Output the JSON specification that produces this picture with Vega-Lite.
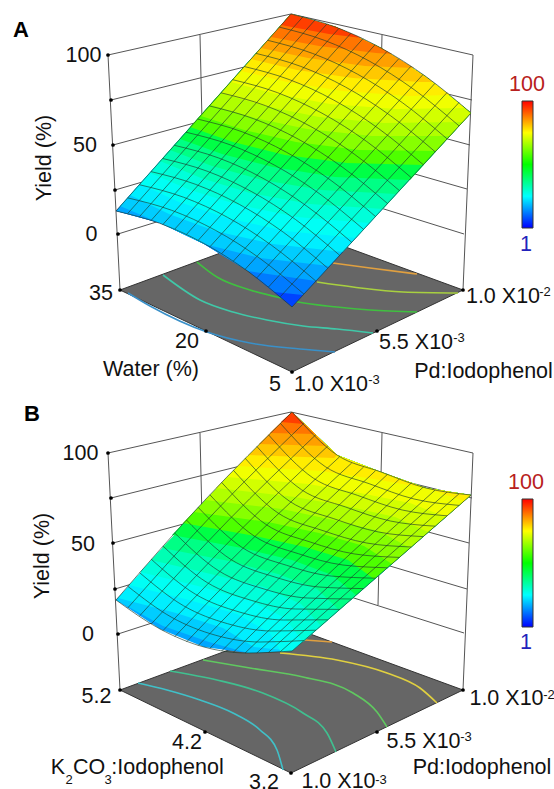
{"$schema":"https://vega.github.io/schema/vega-lite/v6.json","width":554,"height":789,"padding":0,"autosize":{"type":"none"},"background":"white","config":{"view":{"stroke":null}},
"datasets":{
"floors":[{"p":"A","x":[120,291,463,292,120],"y":[290,227,290,372,290]},{"p":"B","x":[120,291,463,291,120],"y":[690,627,690,773,690]}],
"walls":[{"l":"a1","x":[108,291],"y":[55,14]},{"l":"a2","x":[291,473],"y":[14,55]},{"l":"a3","x":[108,120],"y":[55,290]},{"l":"a4","x":[473,463],"y":[55,290]},{"l":"a5","x":[200,204],"y":[35,207]},{"l":"a6","x":[382,378],"y":[35,207]},{"l":"a7","x":[291,291],"y":[14,180]},{"l":"a8","x":[111,291],"y":[100,55.5]},{"l":"a9","x":[113,291],"y":[145,97]},{"l":"a10","x":[115,291],"y":[190,138.5]},{"l":"a11","x":[118,291],"y":[234,180]},{"l":"a12","x":[472,291],"y":[100,55.5]},{"l":"a13","x":[470,291],"y":[145,97]},{"l":"a14","x":[467,291],"y":[189,138.5]},{"l":"a15","x":[464,291],"y":[234,180]},
{"l":"b1","x":[108,291],"y":[453,412]},{"l":"b2","x":[291,473],"y":[412,453]},{"l":"b3","x":[108,120],"y":[453,690]},{"l":"b4","x":[473,463],"y":[453,690]},{"l":"b5","x":[200,204],"y":[433,605]},{"l":"b6","x":[382,378],"y":[433,605]},{"l":"b7","x":[291,291],"y":[412,578]},{"l":"b8","x":[111,291],"y":[498,453.5]},{"l":"b9","x":[113,291],"y":[543,495]},{"l":"b10","x":[115,291],"y":[589,536.5]},{"l":"b11","x":[118,291],"y":[634,578]},{"l":"b12","x":[472,291],"y":[498,453.5]},{"l":"b13","x":[469,291],"y":[543,495]},{"l":"b14","x":[467,291],"y":[589,536.5]},{"l":"b15","x":[464,291],"y":[633,578]}],
"contours":[
{"c":"A1","x":[128,150,207,250,300,335],"y":[293,306,332,343,349,352]},
{"c":"A2","x":[163,200,233,267,303,337,373],"y":[275,300,312,320,326,329,333]},
{"c":"A3","x":[197,217,250,277,298,337,370,417],"y":[262,277,290,297,302,307,310,312]},
{"c":"A4","x":[317,353,403,458],"y":[282,287,292,293]},
{"c":"A5","x":[333,370,417],"y":[263,268,274]},
{"c":"B1","x":[138,167,200,233,260,277,283],"y":[683,690,700,713,730,750,770]},
{"c":"B2","x":[170,217,260,303,327,336],"y":[671,680,692,713,733,752]},
{"c":"B3","x":[203,250,303,353,377,387],"y":[660,668,677,693,712,727]},
{"c":"B4","x":[280,337,387,420,437],"y":[653,660,673,688,703]},
{"c":"B5","x":[305,332],"y":[640,642]}],
"bands":[
{"b":"A00","z":2.5,"x":[116,160,204,248,292,471,426,381,336,291],"y":[211,223,244,271,307,113,77,48,27,14]},
{"b":"A05","z":7.5,"x":[116,160,204,248,274,303,471,426,381,336,291],"y":[211,223,244,271,292,295,113,77,48,27,14]},
{"b":"A10","z":12.5,"x":[116,160,204,248,316,471,426,381,336,291],"y":[211,223,244,271,281,113,77,48,27,14]},
{"b":"A15","z":17.5,"x":[120,160,204,260,329,471,426,381,336,291],"y":[206,223,244,258,266,113,77,48,27,14]},
{"b":"A20","z":22.5,"x":[130,169,215,273,343,471,426,381,336,291],"y":[195,214,231,244,252,113,77,48,27,14]},
{"b":"A25","z":27.5,"x":[140,179,227,285,356,471,426,381,336,291],"y":[184,202,218,231,238,113,77,48,27,14]},
{"b":"A30","z":32.5,"x":[150,190,239,297,369,471,426,381,336,291],"y":[173,190,205,217,223,113,77,48,27,14]},
{"b":"A35","z":37.5,"x":[160,201,250,310,383,471,426,381,336,291],"y":[161,178,193,204,209,113,77,48,27,14]},
{"b":"A40","z":42.5,"x":[170,212,262,322,396,471,426,381,336,291],"y":[150,166,180,190,194,113,77,48,27,14]},
{"b":"A45","z":47.5,"x":[180,222,273,335,410,471,426,381,336,291],"y":[139,154,167,177,180,113,77,48,27,14]},
{"b":"A50","z":52.5,"x":[190,233,285,347,423,471,426,381,336,291],"y":[127,142,155,163,165,113,77,48,27,14]},
{"b":"A55","z":57.5,"x":[201,244,296,359,436,471,426,381,336,291],"y":[116,130,142,150,151,113,77,48,27,14]},
{"b":"A60","z":62.5,"x":[211,255,307,372,450,471,426,381,336,291],"y":[105,118,129,136,136,113,77,48,27,14]},
{"b":"A65","z":67.5,"x":[221,265,319,384,463,471,426,381,336,291],"y":[93,106,117,123,122,113,77,48,27,14]},
{"b":"A70","z":72.5,"x":[231,276,330,396,465,426,381,336,291],"y":[82,94,104,109,108,77,48,27,14]},
{"b":"A75","z":77.5,"x":[241,287,342,409,450,426,381,336,291],"y":[71,82,91,96,95,77,48,27,14]},
{"b":"A80","z":82.5,"x":[251,297,353,421,433,426,381,336,291],"y":[59,70,78,82,82,77,48,27,14]},
{"b":"A85","z":87.5,"x":[261,308,365,414,381,336,291],"y":[48,58,66,68,48,27,14]},
{"b":"A90","z":92.5,"x":[271,319,376,392,381,336,291],"y":[37,46,53,54,48,27,14]},
{"b":"A95","z":97.5,"x":[281,329,362,336,291],"y":[25,34,38,27,14]},
{"b":"B10","z":12.5,"x":[116,160,204,248,292,471,426,381,337,292],"y":[600,629,647,653,651,495,488,472,455,412]},
{"b":"B15","z":17.5,"x":[116,163,209,248,292,471,426,381,337,292],"y":[600,626,642,653,651,495,488,472,455,412]},
{"b":"B20","z":22.5,"x":[118,176,223,254,292,471,426,381,337,292],"y":[598,613,628,647,651,495,488,472,455,412]},
{"b":"B25","z":27.5,"x":[129,189,237,270,281,292,471,426,381,337,292],"y":[585,600,614,633,652,651,495,488,472,455,412]},
{"b":"B30","z":32.5,"x":[140,202,251,285,303,471,426,381,337,292],"y":[572,587,601,618,642,495,488,472,455,412]},
{"b":"B35","z":37.5,"x":[151,215,264,301,321,471,426,381,337,292],"y":[560,575,587,604,626,495,488,472,455,412]},
{"b":"B40","z":42.5,"x":[162,229,278,317,339,471,426,381,337,292],"y":[548,561,574,589,610,495,488,472,455,412]},
{"b":"B45","z":47.5,"x":[172,242,292,332,356,471,426,381,337,292],"y":[535,548,560,575,595,495,488,472,455,412]},
{"b":"B50","z":52.5,"x":[183,255,305,348,374,471,426,381,337,292],"y":[523,536,547,560,579,495,488,472,455,412]},
{"b":"B55","z":57.5,"x":[194,268,319,364,392,471,426,381,337,292],"y":[512,522,533,546,564,495,488,472,455,412]},
{"b":"B60","z":62.5,"x":[205,282,333,379,410,471,426,381,337,292],"y":[500,509,520,531,548,495,488,472,455,412]},
{"b":"B65","z":67.5,"x":[216,295,346,395,428,471,426,381,337,292],"y":[488,497,506,517,532,495,488,472,455,412]},
{"b":"B70","z":72.5,"x":[227,308,360,410,446,471,426,381,337,292],"y":[477,484,493,503,517,495,488,472,455,412]},
{"b":"B75","z":77.5,"x":[238,321,374,426,464,471,426,381,337,292],"y":[466,471,479,488,501,495,488,472,455,412]},
{"b":"B80","z":82.5,"x":[249,334,337,292],"y":[455,458,455,412]},
{"b":"B85","z":87.5,"x":[259,327,314,292],"y":[444,446,433,412]},
{"b":"B90","z":92.5,"x":[270,315,292],"y":[433,434,412]},
{"b":"B95","z":97.5,"x":[281,304,292],"y":[422,424,412]}],
"mesh":[
{"l":"Ak0","x":[116,160,204,248,292],"y":[211,223.4,243.5,271.4,307]},
{"l":"Ak1","x":[127.7,171.7,215.8,259.9,303.9],"y":[197.9,210.3,230.5,258.4,294.1]},
{"l":"Ak2","x":[139.3,183.5,227.6,271.7,315.9],"y":[184.7,197.2,217.4,245.4,281.1]},
{"l":"Ak3","x":[151,195.2,239.4,283.6,327.8],"y":[171.6,184.2,204.4,232.4,268.2]},
{"l":"Ak4","x":[162.7,206.9,251.2,295.5,339.7],"y":[158.5,171.1,191.4,219.5,255.3]},
{"l":"Ak5","x":[174.3,218.7,263,307.3,351.7],"y":[145.3,158,178.3,206.5,242.3]},
{"l":"Ak6","x":[186,230.4,274.8,319.2,363.6],"y":[132.2,144.9,165.3,193.5,229.4]},
{"l":"Ak7","x":[197.7,242.1,286.6,331.1,375.5],"y":[119.1,131.8,152.3,180.5,216.5]},
{"l":"Ak8","x":[209.3,253.9,298.4,342.9,387.5],"y":[105.9,118.8,139.2,167.5,203.5]},
{"l":"Ak9","x":[221,265.6,310.2,354.8,399.4],"y":[92.8,105.7,126.2,154.5,190.6]},
{"l":"Ak10","x":[232.7,277.3,322,366.7,411.3],"y":[79.7,92.6,113.2,141.5,177.7]},
{"l":"Ak11","x":[244.3,289.1,333.8,378.5,423.3],"y":[66.5,79.5,100.1,128.5,164.7]},
{"l":"Ak12","x":[256,300.8,345.6,390.4,435.2],"y":[53.4,66.4,87.1,115.6,151.8]},
{"l":"Ak13","x":[267.7,312.5,357.4,402.3,447.1],"y":[40.3,53.4,74.1,102.6,138.9]},
{"l":"Ak14","x":[279.3,324.3,369.2,414.1,459.1],"y":[27.1,40.3,61,89.6,125.9]},
{"l":"Ak15","x":[291,336,381,426,471],"y":[14,27.2,48,76.6,113]},
{"l":"Aj0","x":[116,291],"y":[211,14]},
{"l":"Aj1","x":[127.7,303],"y":[213.5,16.7]},
{"l":"Aj2","x":[139.5,315],"y":[216.6,20]},
{"l":"Aj3","x":[151.2,327],"y":[220.3,23.9]},
{"l":"Aj4","x":[162.9,339],"y":[224.5,28.3]},
{"l":"Aj5","x":[174.7,351],"y":[229.2,33.2]},
{"l":"Aj6","x":[186.4,363],"y":[234.5,38.7]},
{"l":"Aj7","x":[198.1,375],"y":[240.4,44.8]},
{"l":"Aj8","x":[209.9,387],"y":[246.8,51.4]},
{"l":"Aj9","x":[221.6,399],"y":[253.7,58.5]},
{"l":"Aj10","x":[233.3,411],"y":[261.2,66.2]},
{"l":"Aj11","x":[245.1,423],"y":[269.3,74.5]},
{"l":"Aj12","x":[256.8,435],"y":[277.9,83.3]},
{"l":"Aj13","x":[268.5,447],"y":[287,92.6]},
{"l":"Aj14","x":[280.3,459],"y":[296.7,102.5]},
{"l":"Aj15","x":[292,471],"y":[307,113]},
{"l":"Bk0","x":[116,160,204,248,292],"y":[600,629,647,653,651]},
{"l":"Bk1","x":[127.7,171.8,215.8,259.9,303.9],"y":[586.2,617.4,635.3,642,640.6]},
{"l":"Bk2","x":[139.5,183.6,227.6,271.7,315.9],"y":[572.6,605.8,623.7,631,630.2]},
{"l":"Bk3","x":[151.2,195.4,239.4,283.6,327.8],"y":[559.2,594.2,612,620,619.8]},
{"l":"Bk4","x":[162.9,207.2,251.2,295.5,339.7],"y":[546,582.6,600.3,609,609.4]},
{"l":"Bk5","x":[174.7,219,263,307.3,351.7],"y":[533,571,588.7,598,599]},
{"l":"Bk6","x":[186.4,230.8,274.8,319.2,363.6],"y":[520,559.4,577,587,588.6]},
{"l":"Bk7","x":[198.1,242.6,286.6,331.1,375.5],"y":[507.3,547.8,565.3,576,578.2]},
{"l":"Bk8","x":[209.9,254.4,298.4,342.9,387.5],"y":[494.8,536.2,553.7,565,567.8]},
{"l":"Bk9","x":[221.6,266.2,310.2,354.8,399.4],"y":[482.4,524.6,542,554,557.4]},
{"l":"Bk10","x":[233.3,278,322,366.7,411.3],"y":[470.2,513,530.3,543,547]},
{"l":"Bk11","x":[245.1,289.8,333.8,378.5,423.3],"y":[458.2,501.4,518.7,532,536.6]},
{"l":"Bk12","x":[256.8,301.6,345.6,390.4,435.2],"y":[446.4,489.8,507,521,526.2]},
{"l":"Bk13","x":[268.5,313.4,357.4,402.3,447.1],"y":[434.8,478.2,495.3,510,515.8]},
{"l":"Bk14","x":[280.3,325.2,369.2,414.1,459.1],"y":[423.3,466.6,483.7,499,505.4]},
{"l":"Bk15","x":[292,337,381,426,471],"y":[412,455,472,488,495]},
{"l":"Bj0","x":[116,204,292],"y":[600,501,412]},
{"l":"Bj1","x":[127.7,215.8,303.9],"y":[608,511,423.3]},
{"l":"Bj2","x":[139.5,227.7,315.9],"y":[616,521,434.7]},
{"l":"Bj3","x":[151.2,239.5,327.8],"y":[624,531,446]},
{"l":"Bj4","x":[162.9,251.3,339.7],"y":[630.7,540,456.7]},
{"l":"Bj5","x":[174.7,263.2,351.7],"y":[636.7,546.5,463]},
{"l":"Bj6","x":[186.4,275,363.6],"y":[642,551.5,467]},
{"l":"Bj7","x":[198.1,286.8,375.5],"y":[645.7,555.5,470.7]},
{"l":"Bj8","x":[209.9,298.7,387.5],"y":[648.3,559,474.3]},
{"l":"Bj9","x":[221.6,310.5,399.4],"y":[651,563,479]},
{"l":"Bj10","x":[233.3,322.3,411.3],"y":[652.3,566,483]},
{"l":"Bj11","x":[245.1,334.2,423.3],"y":[653,568.7,487]},
{"l":"Bj12","x":[256.8,346,435.2],"y":[653,570.5,490]},
{"l":"Bj13","x":[268.5,357.8,447.1],"y":[652.3,571.5,492]},
{"l":"Bj14","x":[280.3,369.7,459.1],"y":[651.7,572.5,493.7]},
{"l":"Bj15","x":[292,381.5,471],"y":[651,573,495]}],
"dots":[{"x":108,"y":55},{"x":111,"y":100},{"x":113,"y":145},{"x":115,"y":190},{"x":118,"y":234},{"x":120,"y":290},{"x":206,"y":331},{"x":292,"y":372},{"x":377,"y":331},{"x":463,"y":290},{"x":108,"y":453},{"x":111,"y":498},{"x":113,"y":543},{"x":115,"y":589},{"x":118,"y":634},{"x":120,"y":690},{"x":205,"y":732},{"x":291,"y":773},{"x":377,"y":732},{"x":463,"y":690}],
"bars":[{"p":"A","x":522,"x2":533,"y":101,"y2":228},{"p":"B","x":522,"x2":533,"y":499,"y2":627}],
"big":[{"t":"100","x":83.5,"y":56},{"t":"50","x":85,"y":146},{"t":"0","x":91.5,"y":235},{"t":"35","x":101,"y":294},{"t":"20","x":187,"y":342},{"t":"Water (%)","x":151,"y":370},{"t":"5","x":275,"y":385},{"t":"1.0 X10","x":331,"y":385},{"t":"5.5 X10","x":416,"y":343},{"t":"1.0 X10","x":503,"y":297},{"t":"Pd:Iodophenol","x":483.5,"y":372},
{"t":"100","x":80.5,"y":454},{"t":"50","x":83,"y":545},{"t":"0","x":88,"y":635},{"t":"5.2","x":96.5,"y":697},{"t":"4.2","x":187,"y":743},{"t":"K","x":58,"y":768},{"t":"CO","x":89,"y":768},{"t":":Iodophenol","x":167.5,"y":768},{"t":"3.2","x":264,"y":783},{"t":"1.0 X10","x":338.5,"y":782},{"t":"5.5 X10","x":423.5,"y":742},{"t":"1.0 X10","x":506.5,"y":699},{"t":"Pd:Iodophenol","x":482,"y":768}],
"small":[{"t":"-3","x":374,"y":380},{"t":"-3","x":459,"y":338},{"t":"-2","x":545,"y":292},{"t":"-3","x":381,"y":780},{"t":"-3","x":466,"y":737},{"t":"-2","x":549,"y":695},{"t":"2","x":69,"y":780},{"t":"3","x":108,"y":780}],
"yaxis":[{"t":"Yield (%)","x":45,"y":158},{"t":"Yield (%)","x":43,"y":556}],
"letters":[{"t":"A","x":21,"y":30},{"t":"B","x":32,"y":414}],
"maxes":[{"t":"100","x":527,"y":85},{"t":"100","x":526,"y":483}],
"mins":[{"t":"1","x":526,"y":245},{"t":"1","x":526,"y":643}]
},
"encoding":{"x":{"field":"x","type":"quantitative","scale":{"domain":[0,554],"range":[0,554],"nice":false,"zero":false},"axis":null},"y":{"field":"y","type":"quantitative","scale":{"domain":[789,0],"range":[789,0],"nice":false,"zero":false},"axis":null}},
"layer":[
{"data":{"name":"floors"},"transform":[{"flatten":["x","y"]},{"window":[{"op":"row_number","as":"i"}]}],"mark":{"type":"line","fill":"#666666","stroke":"#333333","strokeWidth":1},"encoding":{"detail":{"field":"p"},"order":{"field":"i"}}},
{"data":{"name":"walls"},"transform":[{"flatten":["x","y"]},{"window":[{"op":"row_number","as":"i"}]}],"mark":{"type":"line","stroke":"#555555","strokeWidth":1},"encoding":{"detail":{"field":"l"},"order":{"field":"i"}}},
{"data":{"name":"contours"},"transform":[{"flatten":["x","y"]},{"window":[{"op":"row_number","as":"i"}]}],"mark":{"type":"line","strokeWidth":1.6,"interpolate":"monotone"},"encoding":{"color":{"field":"c","type":"nominal","scale":{"domain":["A1","A2","A3","A4","A5","B1","B2","B3","B4","B5"],"range":["#3a90c8","#40c8a8","#40c040","#a8d040","#e0a040","#40c0c8","#40c090","#60c860","#e0d040","#e0a040"]},"legend":null},"order":{"field":"i"}}},
{"data":{"name":"bands"},"transform":[{"flatten":["x","y"]},{"window":[{"op":"row_number","as":"i"}]}],"mark":{"type":"line","strokeWidth":0},"encoding":{"fill":{"field":"z","type":"quantitative","scale":{"domain":[0,25,50,75,100],"range":["#0000ff","#00ffff","#00ff00","#ffff00","#ff0000"]},"legend":null},"detail":{"field":"b"},"order":{"field":"i"}}},
{"data":{"name":"mesh"},"transform":[{"flatten":["x","y"]},{"window":[{"op":"row_number","as":"i"}]}],"mark":{"type":"line","stroke":"#1a3a2a","strokeWidth":0.8,"strokeOpacity":0.8,"interpolate":"monotone"},"encoding":{"detail":{"field":"l"},"order":{"field":"i"}}},
{"data":{"name":"dots"},"mark":{"type":"circle","color":"#000000","size":14,"opacity":1}},
{"data":{"name":"bars"},"mark":{"type":"rect","stroke":"#333333","strokeWidth":1,"fill":{"gradient":"linear","x1":0,"y1":1,"x2":0,"y2":0,"stops":[{"offset":0,"color":"#0000ff"},{"offset":0.25,"color":"#00ffff"},{"offset":0.5,"color":"#00ff00"},{"offset":0.75,"color":"#ffff00"},{"offset":1,"color":"#ff0000"}]}},"encoding":{"x2":{"field":"x2"},"y2":{"field":"y2"}}},
{"data":{"name":"big"},"mark":{"type":"text","font":"Liberation Sans","fontSize":21.5,"color":"#111111","align":"center","baseline":"middle"},"encoding":{"text":{"field":"t"}}},
{"data":{"name":"small"},"mark":{"type":"text","font":"Liberation Sans","fontSize":13,"color":"#111111","align":"center","baseline":"middle"},"encoding":{"text":{"field":"t"}}},
{"data":{"name":"yaxis"},"mark":{"type":"text","font":"Liberation Sans","fontSize":21.5,"color":"#111111","align":"center","baseline":"middle","angle":270},"encoding":{"text":{"field":"t"}}},
{"data":{"name":"letters"},"mark":{"type":"text","font":"Liberation Sans","fontWeight":"bold","fontSize":22,"color":"#000000","align":"center","baseline":"middle"},"encoding":{"text":{"field":"t"}}},
{"data":{"name":"maxes"},"mark":{"type":"text","font":"Liberation Sans","fontSize":21.5,"color":"#b82020","align":"center","baseline":"middle"},"encoding":{"text":{"field":"t"}}},
{"data":{"name":"mins"},"mark":{"type":"text","font":"Liberation Sans","fontSize":21.5,"color":"#2222bb","align":"center","baseline":"middle"},"encoding":{"text":{"field":"t"}}}
]}
